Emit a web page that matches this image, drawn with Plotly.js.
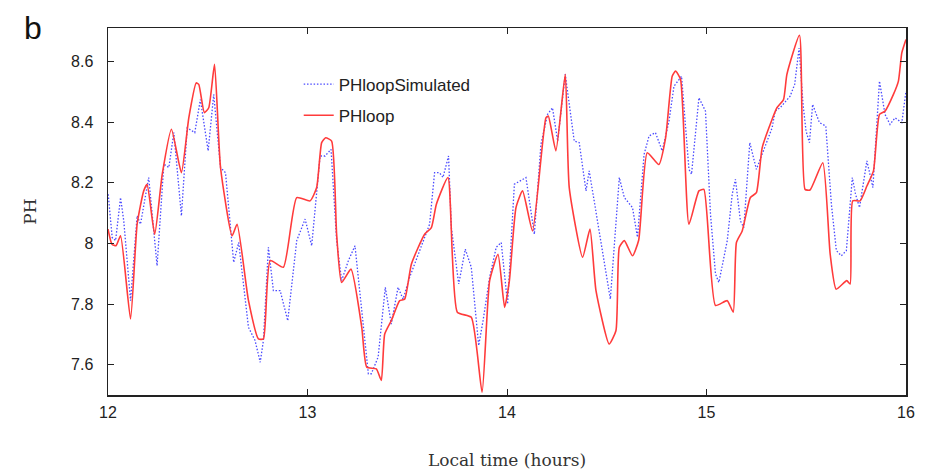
<!DOCTYPE html>
<html>
<head>
<meta charset="utf-8">
<script src="https://cdn.plot.ly/plotly-3.0.1.min.js"></script>
<style>html,body{margin:0;padding:0;background:#fff;}#chart{width:925px;height:476px;}</style>
</head>
<body>
<div id="chart"></div>
<script>
// PHloop (measured) series
const timeMeasured = [12.00,12.02,12.04,12.063,12.113,12.146,12.179,12.196,12.234,12.272,12.318,12.368,12.405,12.442,12.455,12.483,12.505,12.534,12.564,12.622,12.647,12.704,12.754,12.779,12.813,12.879,12.946,13.013,13.046,13.071,13.091,13.121,13.146,13.171,13.218,13.272,13.297,13.345,13.370,13.387,13.420,13.462,13.487,13.521,13.587,13.621,13.646,13.704,13.751,13.821,13.875,13.913,13.955,13.988,14.012,14.045,14.078,14.128,14.195,14.207,14.245,14.292,14.312,14.379,14.416,14.446,14.512,14.546,14.563,14.588,14.629,14.66,14.703,14.761,14.795,14.828,14.845,14.870,14.912,14.962,14.987,15.045,15.104,15.134,15.150,15.179,15.220,15.250,15.279,15.329,15.353,15.386,15.403,15.466,15.494,15.519,15.583,15.620,15.650,15.703,15.720,15.733,15.770,15.804,15.837,15.867,15.895,15.937,15.962,15.979,16.00];
const phMeasured = [8.047,7.997,7.992,8.025,7.751,8.063,8.173,8.195,8.030,8.228,8.376,8.233,8.414,8.529,8.524,8.431,8.447,8.590,8.250,8.025,8.063,7.812,7.685,7.685,7.943,7.921,8.151,8.140,8.184,8.332,8.348,8.337,8.030,7.871,7.915,7.723,7.592,7.586,7.548,7.701,7.745,7.811,7.816,7.932,8.030,8.052,8.129,8.217,7.773,7.756,7.509,7.877,7.964,7.789,7.877,8.118,8.173,8.041,8.414,8.420,8.305,8.557,8.184,7.954,8.047,7.844,7.668,7.712,7.987,8.009,7.959,8.01,8.299,8.260,8.348,8.551,8.568,8.540,8.063,8.173,8.178,7.795,7.811,7.773,8.003,8.041,8.151,8.167,8.315,8.409,8.447,8.474,8.557,8.686,8.178,8.176,8.266,7.964,7.849,7.877,7.866,8.140,8.140,8.189,8.239,8.425,8.436,8.491,8.535,8.628,8.672];

// PHloopSimulated series
const timeSimulated = [12.001,12.021,12.038,12.063,12.079,12.113,12.146,12.163,12.204,12.246,12.280,12.305,12.330,12.368,12.397,12.435,12.463,12.502,12.530,12.564,12.589,12.630,12.655,12.704,12.737,12.763,12.779,12.804,12.829,12.863,12.901,12.946,12.988,13.021,13.063,13.088,13.118,13.146,13.171,13.205,13.238,13.272,13.305,13.320,13.354,13.390,13.420,13.454,13.479,13.512,13.554,13.612,13.637,13.662,13.679,13.707,13.721,13.758,13.791,13.821,13.858,13.880,13.913,13.946,13.971,13.996,14.003,14.037,14.095,14.137,14.170,14.203,14.228,14.254,14.292,14.337,14.362,14.396,14.412,14.437,14.518,14.563,14.588,14.629,14.654,14.687,14.712,14.744,14.778,14.812,14.837,14.875,14.912,14.925,14.962,14.995,15.020,15.045,15.062,15.104,15.129,15.145,15.170,15.187,15.217,15.250,15.279,15.329,15.344,15.369,15.419,15.442,15.464,15.484,15.499,15.516,15.532,15.566,15.598,15.626,15.651,15.676,15.701,15.731,15.747,15.767,15.804,15.834,15.867,15.895,15.920,15.945,15.979,16.00];
const phSimulated = [8.162,8.019,8.009,8.151,8.074,7.811,8.091,8.063,8.217,7.926,8.261,8.250,8.365,8.091,8.381,8.365,8.474,8.305,8.491,8.250,8.233,7.937,8.003,7.723,7.680,7.608,7.680,7.987,7.844,7.844,7.745,8.009,8.080,7.992,8.288,8.288,8.310,8.009,7.877,7.943,7.992,7.778,7.570,7.570,7.625,7.855,7.734,7.855,7.816,7.888,7.964,8.063,8.233,8.233,8.217,8.288,8.052,7.866,7.981,7.921,7.663,7.745,7.888,7.987,8.003,7.833,7.800,8.195,8.217,8.030,8.326,8.425,8.447,8.337,8.557,8.337,8.332,8.173,8.239,8.140,7.816,8.217,8.151,8.118,8.020,8.293,8.354,8.365,8.305,8.403,8.518,8.551,8.244,8.228,8.480,8.436,8.096,7.899,7.871,8.009,8.162,8.211,8.074,8.052,8.332,8.244,8.293,8.381,8.436,8.447,8.485,8.524,8.644,8.458,8.370,8.332,8.458,8.398,8.387,8.129,7.976,7.959,7.976,8.217,8.162,8.118,8.272,8.184,8.535,8.425,8.392,8.414,8.398,8.502];

const xTickVals = [12,13,14,15,16];
const xTickText = ['12','13','14','15','16'];
const yTickVals = [7.6,7.8,8,8.2,8.4,8.6];
const yTickText = ['7.6','7.8','8','8.2','8.4','8.6'];

const sans = 'Liberation Sans, Arial, sans-serif';
const serif = 'DejaVu Serif, Liberation Serif, serif';

const traces = [
  {x: timeSimulated, y: phSimulated, name: 'PHloopSimulated', type: 'scatter', mode: 'lines',
   legendgroup: 'sim',
   line: {color: '#4a4aff', width: 1.3, dash: '1.5px,1.8px'}},
  {x: timeMeasured, y: phMeasured, name: 'PHloop', type: 'scatter', mode: 'lines',
   legendgroup: 'meas',
   line: {color: '#ff3b3b', width: 1.6, shape: 'spline', smoothing: 0.5}}
];

const axisCommon = {
  showline: true, linecolor: '#222', linewidth: 1.5, mirror: 'ticks',
  ticks: 'inside', ticklen: 6, tickwidth: 1, tickcolor: '#222',
  showgrid: false, zeroline: false,
  tickfont: {family: sans, size: 16, color: '#222'}
};

const layout = {
  width: 925, height: 476,
  margin: {l: 107.5, r: 18.5, t: 28, b: 81},
  paper_bgcolor: '#fff', plot_bgcolor: '#fff',
  showlegend: true,
  legend: {x: 0.239, y: 0.895, xanchor: 'left', yanchor: 'top', bgcolor: 'rgba(0,0,0,0)',
           font: {family: sans, size: 17, color: '#222'}, itemwidth: 30, tracegroupgap: 6},
  xaxis: Object.assign({}, axisCommon, {
    range: [12, 16], tickvals: xTickVals, ticktext: xTickText, ticklabelstandoff: 2,
    title: {text: 'Local time (hours)', font: {family: serif, size: 17, color: '#333'}, standoff: 34}
  }),
  yaxis: Object.assign({}, axisCommon, {
    range: [7.5, 8.71], tickvals: yTickVals, ticktext: yTickText, ticklabelstandoff: 10,
    title: {text: 'PH', font: {family: serif, size: 17, color: '#333'}, standoff: 30}
  }),
  annotations: [
    {text: 'b', xref: 'paper', yref: 'paper', x: -0.108, y: 1.055, xanchor: 'left', yanchor: 'top',
     showarrow: false, font: {family: sans, size: 32, color: '#111'}}
  ]
};

Plotly.newPlot('chart', traces, layout, {displayModeBar: false, staticPlot: true});
</script>
</body>
</html>
